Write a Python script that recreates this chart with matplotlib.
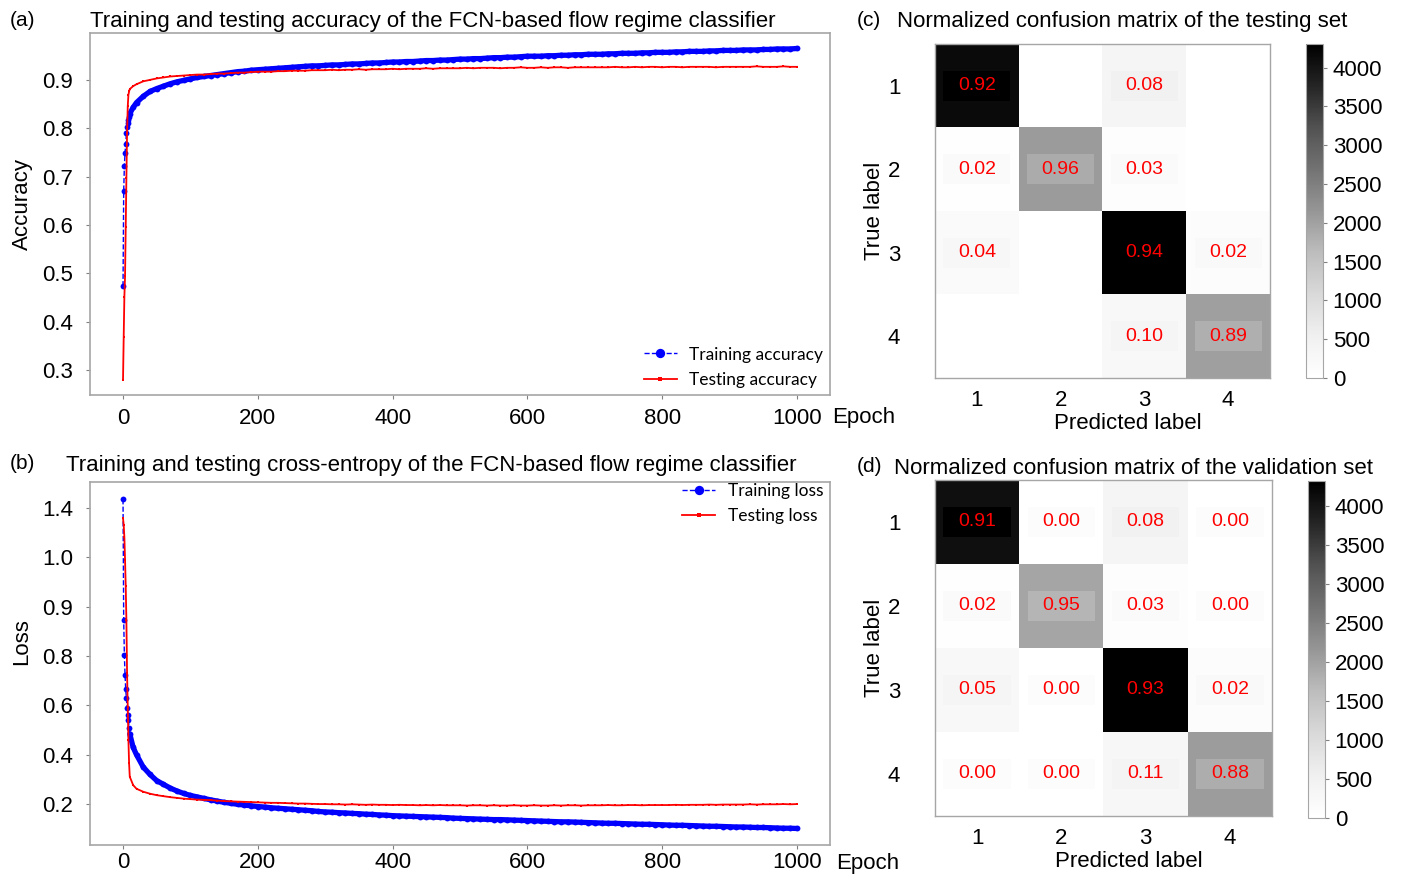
import numpy as np
import matplotlib
matplotlib.use("Agg")
import matplotlib.pyplot as plt
from matplotlib.patches import Rectangle

plt.rcParams['font.family'] = ['Liberation Sans', 'DejaVu Sans']

# epochs at which the curves are sampled
epochs = np.r_[0:11, 15, 20:100:10, 100:1001:10]

train_acc = [
    0.473, 0.670, 0.722, 0.749, 0.767, 0.790, 0.802, 0.811, 0.818, 0.824, 0.830,
    0.843, 0.853, 0.866, 0.876, 0.882, 0.887, 0.892, 0.896, 0.899,
    0.902, 0.905, 0.907, 0.909, 0.911, 0.913, 0.915, 0.917, 0.918, 0.920, 0.921,
    0.922, 0.923, 0.924, 0.925, 0.926, 0.927, 0.928, 0.929, 0.929, 0.930,
    0.931, 0.931, 0.932, 0.933, 0.933, 0.934, 0.935, 0.935, 0.936, 0.937,
    0.937, 0.938, 0.938, 0.939, 0.940, 0.940, 0.941, 0.941, 0.942, 0.943,
    0.943, 0.944, 0.944, 0.945, 0.946, 0.946, 0.947, 0.947, 0.948, 0.949,
    0.949, 0.949, 0.950, 0.950, 0.951, 0.951, 0.952, 0.952, 0.953, 0.953,
    0.953, 0.954, 0.954, 0.955, 0.955, 0.955, 0.956, 0.956, 0.957, 0.957,
    0.957, 0.958, 0.958, 0.959, 0.959, 0.959, 0.960, 0.960, 0.961, 0.961,
    0.961, 0.962, 0.962, 0.962, 0.963, 0.963, 0.964, 0.964, 0.964, 0.965,
]
test_acc = [
    0.280, 0.369, 0.451, 0.494, 0.596, 0.697, 0.790, 0.845, 0.869, 0.876, 0.881,
    0.887, 0.891, 0.897, 0.900, 0.903, 0.905, 0.907, 0.908, 0.909,
    0.910, 0.911, 0.911, 0.912, 0.913, 0.913, 0.914, 0.915, 0.915, 0.916, 0.917,
    0.917, 0.917, 0.918, 0.918, 0.919, 0.919, 0.919, 0.920, 0.920, 0.920,
    0.921, 0.920, 0.921, 0.921, 0.922, 0.921, 0.922, 0.922, 0.922, 0.923,
    0.922, 0.923, 0.923, 0.923, 0.924, 0.923, 0.924, 0.924, 0.924, 0.924,
    0.925, 0.924, 0.925, 0.925, 0.925, 0.924, 0.925, 0.925, 0.926, 0.925,
    0.925, 0.926, 0.925, 0.926, 0.926, 0.925, 0.926, 0.926, 0.926, 0.926,
    0.926, 0.926, 0.927, 0.926, 0.926, 0.927, 0.926, 0.927, 0.927, 0.926,
    0.927, 0.927, 0.926, 0.927, 0.927, 0.927, 0.927, 0.926, 0.927, 0.927,
    0.927, 0.927, 0.927, 0.928, 0.927, 0.927, 0.927, 0.928, 0.927, 0.927,
]
train_loss = [
    1.436, 0.946, 0.804, 0.723, 0.665, 0.629, 0.591, 0.561, 0.541, 0.507, 0.485,
    0.430, 0.400, 0.350, 0.320, 0.295, 0.280, 0.265, 0.253, 0.243,
    0.235, 0.229, 0.223, 0.217, 0.212, 0.207, 0.203, 0.199, 0.196, 0.193, 0.190,
    0.188, 0.185, 0.183, 0.181, 0.179, 0.177, 0.175, 0.173, 0.170, 0.168,
    0.167, 0.165, 0.164, 0.162, 0.161, 0.159, 0.158, 0.156, 0.155, 0.153,
    0.152, 0.151, 0.150, 0.149, 0.148, 0.147, 0.146, 0.145, 0.143, 0.142,
    0.141, 0.140, 0.139, 0.138, 0.137, 0.137, 0.136, 0.135, 0.134, 0.133,
    0.132, 0.131, 0.130, 0.129, 0.128, 0.128, 0.127, 0.126, 0.125, 0.124,
    0.123, 0.122, 0.122, 0.121, 0.120, 0.119, 0.118, 0.118, 0.117, 0.116,
    0.115, 0.114, 0.114, 0.113, 0.112, 0.111, 0.110, 0.110, 0.109, 0.108,
    0.107, 0.107, 0.106, 0.105, 0.105, 0.104, 0.103, 0.102, 0.102, 0.101,
]
test_loss = [
    1.359, 1.332, 1.282, 1.190, 1.084, 0.946, 0.730, 0.595, 0.460, 0.365, 0.311,
    0.277, 0.262, 0.250, 0.242, 0.236, 0.232, 0.228, 0.225, 0.222,
    0.220, 0.218, 0.217, 0.216, 0.214, 0.212, 0.211, 0.210, 0.209, 0.208, 0.207,
    0.206, 0.205, 0.205, 0.204, 0.203, 0.202, 0.202, 0.201, 0.200, 0.200,
    0.199, 0.199, 0.198, 0.199, 0.198, 0.197, 0.198, 0.197, 0.197, 0.196,
    0.197, 0.196, 0.196, 0.195, 0.196, 0.195, 0.196, 0.195, 0.195, 0.195,
    0.194, 0.195, 0.195, 0.194, 0.195, 0.194, 0.194, 0.195, 0.194, 0.194,
    0.195, 0.194, 0.194, 0.195, 0.194, 0.195, 0.195, 0.194, 0.195, 0.195,
    0.195, 0.196, 0.195, 0.195, 0.196, 0.196, 0.195, 0.196, 0.196, 0.196,
    0.196, 0.197, 0.196, 0.197, 0.197, 0.197, 0.198, 0.197, 0.198, 0.198,
    0.198, 0.198, 0.199, 0.198, 0.199, 0.199, 0.199, 0.200, 0.199, 0.200,
]

loss_ticks = [0.2, 0.4, 0.6, 0.8, 1.0, 1.2, 1.4]
loss_ticklabels = ['0.2', '0.4', '0.6', '0.8', '0.9', '1.0', '1.4']

classes = ['1', '2', '3', '4']
# normalized confusion matrices (rows = true label)
test_norm = [[0.92, 0.00, 0.08, 0.00],
             [0.02, 0.96, 0.03, 0.00],
             [0.04, 0.00, 0.94, 0.02],
             [0.00, 0.00, 0.10, 0.89]]
val_norm = [[0.91, 0.00, 0.08, 0.00],
            [0.02, 0.95, 0.03, 0.00],
            [0.05, 0.00, 0.93, 0.02],
            [0.00, 0.00, 0.11, 0.88]]
# samples per true class
test_support = [4500, 2160, 4580, 2280]
val_support = [4500, 2050, 4640, 2350]
cbar_ticks = [0, 500, 1000, 1500, 2000, 2500, 3000, 3500, 4000]

W, H = 1401, 876
fig = plt.figure(figsize=(W / 100, H / 100), dpi=100)


def rect(x0, y0, x1, y1):
    return [x0 / W, 1 - y1 / H, (x1 - x0) / W, (y1 - y0) / H]


def ftext(x, y, s, **kw):
    fig.text(x / W, 1 - y / H, s, **kw)


FRAME = '#a6a6a6'
LEG_FONT = {'family': 'Lato', 'size': 12.5}


def style_curve_axes(ax, xpad):
    for sp in ax.spines.values():
        sp.set_color(FRAME)
        sp.set_linewidth(1.2)
    ax.tick_params(direction='out', length=3, width=0.8, color='#808080',
                   labelsize=16)
    ax.tick_params(axis='y', pad=9)
    ax.tick_params(axis='x', pad=xpad)


def draw_curves(ax, y_train, y_test, lab_train, lab_test):
    y_train = np.asarray(y_train)
    ax.plot(epochs, y_train, color='#0000ff', ls='--', lw=1.0, marker='o',
            ms=4.2, mew=0, label=lab_train, zorder=3)
    # per-epoch markers merge into a solid band once the curve flattens
    late = epochs >= 10
    ax.plot(epochs[late], y_train[late], color='#0000ff', ls='-', lw=3.8,
            solid_capstyle='round', zorder=3)
    ax.plot(epochs, y_test, color='#ff0000', ls='-', lw=1.3, marker='s',
            ms=1.8, mew=0, label=lab_test, zorder=4)
    ax.set_xlim(-49, 1049)
    ax.set_xticks([0, 200, 400, 600, 800, 1000])


# (a) accuracy
ax_a = fig.add_axes(rect(90, 33, 830, 395))
draw_curves(ax_a, train_acc, test_acc, 'Training accuracy', 'Testing accuracy')
ax_a.set_ylim(0.248, 0.997)
ax_a.set_yticks([0.3, 0.4, 0.5, 0.6, 0.7, 0.8, 0.9])
style_curve_axes(ax_a, 6)
ax_a.legend(loc='lower right', bbox_to_anchor=(1.0, 0.0), frameon=False,
            prop=LEG_FONT, handlelength=1.9, handletextpad=0.7, borderaxespad=0.0,
            labelspacing=0.55, markerscale=1.6)

# (b) loss
ax_b = fig.add_axes(rect(90, 482, 830, 845))
draw_curves(ax_b, train_loss, test_loss, 'Training loss', 'Testing loss')
ax_b.set_ylim(0.034, 1.506)
ax_b.set_yticks(loss_ticks)
ax_b.set_yticklabels(loss_ticklabels)
style_curve_axes(ax_b, 2)
ax_b.legend(loc='upper right', bbox_to_anchor=(1.0, 1.017), frameon=False,
            prop=LEG_FONT, handlelength=1.9, handletextpad=0.7, borderaxespad=0.0,
            labelspacing=0.55, markerscale=1.6)

ftext(10, 20, '(a)', fontsize=15, va='center')
ftext(90, 22, 'Training and testing accuracy of the FCN-based flow regime classifier',
      fontsize=16, va='center')
ftext(10, 463, '(b)', fontsize=15, va='center')
ftext(66, 465, 'Training and testing cross-entropy of the FCN-based flow regime classifier',
      fontsize=16, va='center')
ftext(22, 204, 'Accuracy', fontsize=16, rotation=90, ha='center', va='center')
ftext(22, 642, 'Loss', fontsize=16, rotation=90, ha='center', va='center')
ftext(832, 417, 'Epoch', fontsize=16, va='center')
ftext(836, 863, 'Epoch', fontsize=16, va='center')


def draw_cm(ax, cax, norm_vals, support, show_zero):
    norm_vals = np.array(norm_vals)
    counts = norm_vals * np.array(support)[:, None]
    im = ax.imshow(counts, cmap='Greys', vmin=0, aspect='auto',
                   interpolation='nearest')
    cmap = im.cmap
    vmax = counts.max()
    for i in range(4):
        for j in range(4):
            v = norm_vals[i, j]
            if v == 0 and not show_zero:
                continue
            # faint label plate, a shade off the cell colour
            f = counts[i, j] / vmax
            if f > 0.8:
                f = 1.0
            elif f > 0.3:
                f -= 0.05
            else:
                f += 0.03
            ax.add_patch(Rectangle((j - 0.4, i - 0.18), 0.8, 0.36,
                                   fc=cmap(f), ec='none', zorder=2))
            ax.text(j, i, f'{v:.2f}', ha='center', va='center', color='#ff0000',
                    fontsize=14, zorder=3)
    ax.set_xticks(range(4))
    ax.set_yticks(range(4))
    ax.set_xticklabels(classes, fontsize=16)
    ax.set_yticklabels(classes, fontsize=16)
    ax.tick_params(length=0)
    ax.tick_params(axis='x', pad=9)
    ax.tick_params(axis='y', pad=25)
    for sp in ax.spines.values():
        sp.set_color(FRAME)
        sp.set_linewidth(1.0)
    ax.set_xlabel('Predicted label', fontsize=16, labelpad=-1)
    ax.xaxis.set_label_coords(0.575, -0.105)
    ax.set_ylabel('True label', fontsize=16, labelpad=2)
    cb = fig.colorbar(im, cax=cax, ticks=cbar_ticks)
    cb.outline.set_edgecolor(FRAME)
    cb.ax.tick_params(labelsize=16, length=3, color='#808080', pad=4)


ax_c = fig.add_axes(rect(935, 44, 1270, 378))
cax_c = fig.add_axes(rect(1306, 44, 1323, 378))
draw_cm(ax_c, cax_c, test_norm, test_support, show_zero=False)

ax_d = fig.add_axes(rect(935, 480, 1272, 816))
cax_d = fig.add_axes(rect(1308, 481, 1325, 818))
draw_cm(ax_d, cax_d, val_norm, val_support, show_zero=True)

ftext(857, 20, '(c)', fontsize=15, va='center')
ftext(897, 21, 'Normalized confusion matrix of the testing set', fontsize=16, va='center')
ftext(857, 466, '(d)', fontsize=15, va='center')
ftext(894, 468, 'Normalized confusion matrix of the validation set', fontsize=16, va='center')

fig.savefig('out.png', dpi=100)
